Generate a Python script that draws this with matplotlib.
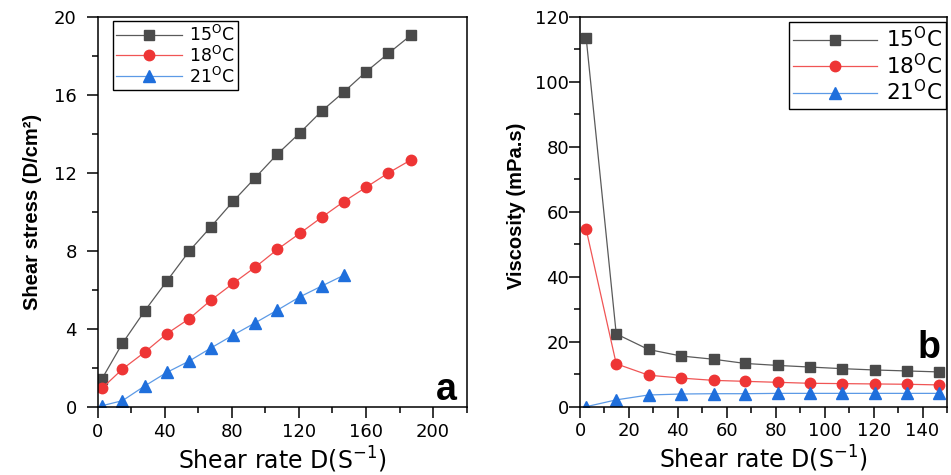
import matplotlib
matplotlib.use("Agg")
import matplotlib.pyplot as plt
from matplotlib.ticker import MultipleLocator

plt.rcParams["font.family"] = ["DejaVu Sans"]
plt.rcParams["mathtext.fontset"] = "dejavusans"

# shear rates (S^-1)
shear_rate = [2.5, 14.8, 28.0, 41.3, 54.6, 67.6, 80.8, 94.0, 107.2, 120.4,
              133.6, 146.7, 159.9, 173.3, 186.6]

# panel a: shear stress (D/cm2)
stress_15 = [1.45, 3.28, 4.93, 6.47, 8.0, 9.25, 10.55, 11.76, 12.97, 14.04,
             15.17, 16.14, 17.17, 18.12, 19.04]
stress_18 = [0.97, 1.96, 2.82, 3.77, 4.54, 5.49, 6.35, 7.18, 8.09, 8.9,
             9.73, 10.53, 11.26, 12.0, 12.66]
stress_21 = [0.08, 0.34, 1.09, 1.79, 2.37, 3.04, 3.7, 4.33, 4.98, 5.65,
             6.21, 6.76]

# panel b: viscosity (mPa.s)
visc_15 = [113.6, 22.4, 17.6, 15.6, 14.6, 13.3, 12.7, 12.2, 11.7, 11.3, 11.0, 10.7]
visc_18 = [54.6, 13.2, 9.7, 8.8, 8.1, 7.8, 7.5, 7.2, 7.1, 7.0, 6.9, 6.7]
visc_21 = [0.0, 2.1, 3.6, 3.9, 4.0, 4.0, 4.1, 4.1, 4.1, 4.1, 4.1, 4.1]

labels = ["15$^{\\mathsf{O}}$C", "18$^{\\mathsf{O}}$C", "21$^{\\mathsf{O}}$C"]
styles = [
    dict(color="#5a5a5a", marker="s", ms=7, mfc="#4a4a4a", mec="#4a4a4a"),
    dict(color="#f05555", marker="o", ms=7.5, mfc="#ee3535", mec="#ee3535"),
    dict(color="#5c9ae6", marker="^", ms=8.5, mfc="#1f6fdc", mec="#1f6fdc"),
]

fig = plt.figure(figsize=(9.51, 4.75), dpi=100)
ax1 = fig.add_axes([0.1027, 0.1425, 0.388, 0.8223])
ax2 = fig.add_axes([0.6099, 0.1438, 0.3859, 0.821])

for ys, lab, st in zip([stress_15, stress_18, stress_21], labels, styles):
    ax1.plot(shear_rate[:len(ys)], ys, lw=0.9, label=lab, **st)
for ys, lab, st in zip([visc_15, visc_18, visc_21], labels, styles):
    ax2.plot(shear_rate[:len(ys)], ys, lw=0.9, label=lab, **st)

ax1.set_xlim(0, 220)
ax1.set_ylim(0, 20)
ax1.xaxis.set_major_locator(MultipleLocator(40))
ax1.xaxis.set_minor_locator(MultipleLocator(20))
ax1.yaxis.set_major_locator(MultipleLocator(4))
ax1.yaxis.set_minor_locator(MultipleLocator(2))

ax2.set_xlim(0, 150)
ax2.set_ylim(0, 120)
ax2.xaxis.set_major_locator(MultipleLocator(20))
ax2.xaxis.set_minor_locator(MultipleLocator(10))
ax2.yaxis.set_major_locator(MultipleLocator(20))
ax2.yaxis.set_minor_locator(MultipleLocator(10))

ylab_font = dict(family="Liberation Sans", fontweight="bold", fontsize=14.5)
ax1.set_ylabel("Shear stress (D/cm²)", **ylab_font)
ax2.set_ylabel("Viscosity (mPa.s)", **ylab_font)
ax1.yaxis.set_label_coords(-0.15, 0.5)
ax2.yaxis.set_label_coords(-0.146, 0.515)

for ax in (ax1, ax2):
    for sp in ax.spines.values():
        sp.set_linewidth(1.1)
    ax.tick_params(which="major", direction="out", length=8, width=1.1,
                   labelsize=13)
    ax.tick_params(which="minor", direction="out", length=4.5, width=1.1)
    ax.set_xlabel("Shear rate D(S$^{-1}$)", fontsize=17, va="top")
    ax.xaxis.set_label_coords(0.5, -0.095)
    ax.tick_params(axis="x", which="major", pad=3)

ax1.tick_params(axis="y", which="major", pad=7)
ax2.tick_params(axis="y", which="major", pad=0)

leg_kw = dict(frameon=True, fancybox=False, edgecolor="black", framealpha=1,
              handletextpad=0.4, labelspacing=0.05,
              borderpad=0.2, borderaxespad=0)
leg1 = ax1.legend(loc="upper left", bbox_to_anchor=(0.041, 0.989),
                  fontsize=12.5, handlelength=3.8, **leg_kw)
leg2 = ax2.legend(loc="upper right", bbox_to_anchor=(0.997, 0.986),
                  fontsize=15.5, handlelength=3.9, **leg_kw)
for leg in (leg1, leg2):
    leg.get_frame().set_linewidth(1.0)

ax1.text(0.974, 0.019, "a", transform=ax1.transAxes, ha="right", va="baseline",
         fontsize=27, fontweight="bold", family="Liberation Sans")
ax2.text(0.981, 0.125, "b", transform=ax2.transAxes, ha="right", va="baseline",
         fontsize=27, fontweight="bold", family="Liberation Sans")

fig.savefig("out.png", dpi=100)
